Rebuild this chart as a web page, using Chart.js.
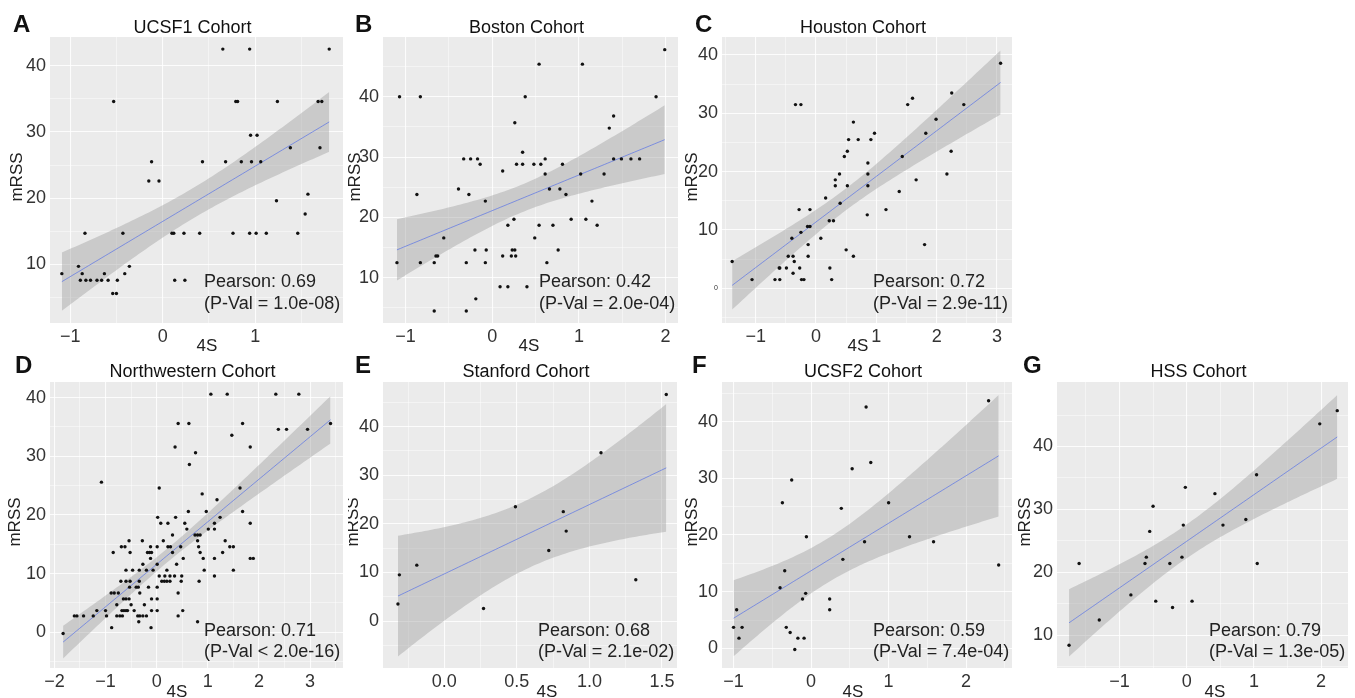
<!DOCTYPE html>
<html lang="en">
<head>
<meta charset="UTF-8">
<title>4S vs mRSS by cohort</title>
<script src="https://cdn.jsdelivr.net/npm/chart.js"></script>
<style>
  body { margin: 0; background: #fff; width: 1355px; height: 698px; position: relative; overflow: hidden; }
  canvas { position: absolute; }
</style>
</head>
<body>
<script>
// ---- data (4S score vs mRSS) ----
const ucsf1X = [0.65,0.94,1.80,-0.53,0.79,0.81,1.24,1.68,1.72,0.95,1.02,1.38,1.70,-0.12,0.43,0.68,0.85,0.96,1.06,-0.15,-0.04,1.57,1.23,1.54,-0.84,-0.43,0.10,0.12,0.23,0.40,0.76,0.94,1.01,1.12,1.46,-0.91,-0.36,-1.09,-0.87,-0.63,-0.41,-0.89,-0.83,-0.78,-0.71,-0.66,-0.59,-0.49,0.13,0.24,-0.54,-0.50];
const ucsf1Y = [42.5,42.5,42.5,34.6,34.6,34.6,34.6,34.6,34.6,29.5,29.5,27.6,27.6,25.5,25.5,25.5,25.5,25.5,25.5,22.6,22.6,20.6,19.6,17.6,14.7,14.7,14.7,14.7,14.7,14.7,14.7,14.7,14.7,14.7,14.7,9.7,9.7,8.6,8.6,8.6,8.6,7.6,7.6,7.6,7.6,7.6,7.6,7.6,7.6,7.6,5.6,5.6];

const bostonX = [1.99,0.54,1.04,-1.07,-0.83,0.38,1.89,1.40,1.35,0.26,0.35,-0.33,-0.25,-0.17,1.40,1.49,1.60,1.70,0.61,-0.14,0.28,0.35,0.48,0.56,0.81,0.12,0.61,1.02,1.29,-0.39,0.66,0.78,-0.27,-0.87,0.85,-0.08,1.15,-0.56,0.25,0.91,1.08,0.18,0.54,0.70,1.21,0.49,-0.20,-0.07,0.23,0.26,0.76,-1.10,-0.83,-0.67,-0.30,-0.08,0.63,-0.65,-0.63,0.12,0.22,0.27,0.09,0.18,0.40,-0.19,-0.67,-0.30];
const bostonY = [47.8,45.4,45.4,40,40,40,40,36.8,34.8,35.7,30.8,29.7,29.7,29.7,29.7,29.7,29.7,29.7,29.7,28.8,28.8,28.8,28.8,28.8,28.8,27.7,27.2,27.2,27.2,24.7,24.7,24.7,23.8,23.8,23.8,22.7,22.7,16.6,19.7,19.7,19.7,18.7,18.7,18.7,18.7,16.6,14.6,14.6,14.6,14.6,14.6,12.5,12.5,12.5,12.5,12.5,12.5,13.6,13.6,13.6,13.6,13.6,8.5,8.5,8.5,6.5,4.5,4.5];

const houstonX = [3.06,-0.34,-0.25,1.60,1.52,2.25,2.45,1.99,0.62,1.82,0.97,0.91,0.54,0.70,0.52,0.47,1.43,2.24,0.86,2.17,0.39,0.86,0.32,0.32,0.52,0.86,1.66,1.38,0.16,0.40,-0.28,-0.10,1.16,0.85,0.22,0.29,-0.14,-0.10,-0.40,-0.25,0.08,-0.13,1.80,0.50,0.62,-0.46,-0.38,-0.13,-1.39,-0.36,-0.61,-0.60,-0.49,-0.27,0.23,-0.38,-1.06,-0.68,-0.60,-0.24,-0.20,0.26];
const houstonY = [38.6,31.5,31.5,32.6,31.5,33.5,31.5,29,28.5,26.6,26.6,25.5,25.5,25.5,23.5,22.6,22.6,23.5,21.5,19.6,19.6,19.6,18.6,17.6,17.6,17.6,18.6,16.6,15.5,14.6,13.5,13.5,13.5,12.6,11.6,11.6,10.6,10.6,8.6,9.6,8.6,7.5,7.5,6.6,5.5,5.5,5.5,5.5,4.6,4.6,3.5,3.5,3.5,3.5,3.5,2.6,1.5,1.5,1.5,1.5,1.5,1.5];

const nwX = [0.36,-1.08,0.05,0.02,0.08,0.22,0.37,0.31,-0.54,-0.28,
  -0.69,-0.62,-0.52,-0.12,0.01,0.13,-0.18,-0.14,-0.10,0.22,
  0.27,-0.85,0.47,-0.12,0.31,-0.27,0.01,0.39,-0.34,-0.20,
  -0.60,-0.47,-0.07,0.20,0.05,0.16,0.26,0.35,0.49,-0.70,
  -0.60,-0.52,-0.34,0.10,0.15,0.20,0.26,0.48,-0.53,-0.40,
  -0.36,-0.16,0.01,-0.89,-0.83,-0.75,-0.33,0.42,-0.65,-0.60,
  -0.54,-0.10,0.01,-0.78,-0.50,-0.24,-0.68,-0.64,-0.60,-0.57,
  -0.44,-0.10,0.01,-1.00,-1.17,-1.61,-1.56,-1.43,-1.24,-0.98,
  -0.78,-0.72,-0.67,-0.37,-0.33,-0.27,-0.20,0.42,-0.35,-0.88,
  -0.11,-1.83,0.42,
  1.06,1.38,2.33,2.78,0.63,1.68,3.40,2.38,2.54,2.95,
  1.47,1.83,0.76,0.64,1.63,0.89,1.18,1.68,0.62,0.97,
  1.24,1.83,0.55,0.59,1.13,1.13,1.01,0.75,0.80,0.85,
  0.80,0.82,1.34,1.43,1.50,0.85,1.29,1.83,1.89,1.13,
  0.52,0.91,0.93,1.50,1.13,0.83,0.51,0.80];
const nwY = [31.6,25.6,24.6,19.6,18.6,18.6,19.6,16.6,15.6,15.6,
  14.6,14.6,13.6,14.6,14.6,15.6,13.6,13.6,13.6,14.6,
  14.6,13.6,14.6,12.6,13.6,11.6,11.6,11.6,10.6,10.6,
  10.6,10.6,10.6,10.6,9.6,9.6,9.6,9.6,9.6,8.7,
  8.7,8.7,8.7,8.7,8.7,8.7,8.7,8.7,7.7,7.7,
  7.7,7.7,7.7,6.7,6.7,6.7,6.7,6.7,5.7,5.7,
  5.7,5.7,5.7,4.7,4.7,4.7,3.7,3.7,3.7,3.7,
  3.7,3.7,3.7,3.7,3.7,2.8,2.8,2.8,2.8,2.8,
  2.8,2.8,2.8,2.8,2.8,2.8,2.8,2.8,1.8,0.8,
  0.8,-0.2,35.6,
  40.6,40.6,40.6,40.6,35.6,35.6,35.6,34.6,34.6,34.6,
  33.6,31.6,30.6,28.6,24.6,23.6,22.6,20.6,20.6,20.6,
  19.6,18.6,18.6,17.6,18.6,17.6,17.6,16.6,16.6,16.6,
  15.6,14.6,15.6,14.6,14.6,13.6,13.6,12.6,12.6,12.6,
  12.6,12.6,10.6,10.6,9.6,8.7,3.7,1.8];

const stanfordX = [1.53,1.08,0.49,0.82,0.84,0.72,-0.19,-0.31,1.32,-0.32,0.27];
const stanfordY = [46.6,34.6,23.5,22.5,18.5,14.5,11.5,9.5,8.5,3.5,2.6];

const ucsf2X = [2.29,0.71,0.77,0.53,-0.25,-0.37,1.00,0.39,-0.06,0.69,1.27,1.58,2.42,0.41,-0.34,-0.40,-0.07,-0.11,0.24,0.24,-0.96,-1.00,-0.89,-0.32,-0.27,-0.93,-0.17,-0.09,-0.21];
const ucsf2Y = [43.7,42.6,32.8,31.7,29.7,25.7,25.7,24.7,19.7,18.8,19.7,18.8,14.7,15.7,13.7,10.7,9.7,8.7,8.7,6.8,6.8,3.7,3.7,3.7,2.8,1.8,1.8,1.8,-0.2];

const hssX = [2.24,1.98,1.04,-0.02,0.42,-0.50,-0.05,0.54,0.88,-0.55,-0.60,-0.62,-0.25,-0.07,-1.60,1.05,-0.83,-0.46,0.08,-0.21,-1.30,-1.75];
const hssY = [45.7,43.6,35.5,33.5,32.5,30.5,27.5,27.5,28.4,26.5,22.4,21.4,21.4,22.4,21.4,21.4,16.4,15.4,15.4,14.4,12.4,8.4];

// tick values and labels
const ticksX3 = [-1, 0, 1];          const labelsX3 = ['\u22121', '0', '1'];
const ticksX4 = [-1, 0, 1, 2];       const labelsX4 = ['\u22121', '0', '1', '2'];
const ticksX5 = [-1, 0, 1, 2, 3];    const labelsX5 = ['\u22121', '0', '1', '2', '3'];
const ticksX6 = [-2, -1, 0, 1, 2, 3]; const labelsX6 = ['\u22122', '\u22121', '0', '1', '2', '3'];
const ticksXE = [0, 0.5, 1, 1.5];    const labelsXE = ['0.0', '0.5', '1.0', '1.5'];
const ticksY4 = [10, 20, 30, 40];    const labelsY4 = ['10', '20', '30', '40'];
const ticksY5 = [0, 10, 20, 30, 40]; const labelsY5 = ['0', '10', '20', '30', '40'];

const titles = ['UCSF1 Cohort', 'Boston Cohort', 'Houston Cohort', 'Northwestern Cohort', 'Stanford Cohort', 'UCSF2 Cohort', 'HSS Cohort'];
const pearson = ['0.69', '0.42', '0.72', '0.71', '0.68', '0.59', '0.79'];
const pvals = ['= 1.0e-08', '= 2.0e-04', '= 2.9e-11', '< 2.0e-16', '= 2.1e-02', '= 7.4e-04', '= 1.3e-05'];

// ---- layout (page pixels) ----
const FONT = '"Liberation Sans", Arial, Helvetica, sans-serif';
const panels = [
  { tag: 'A', xs: ucsf1X, ys: ucsf1Y, xt: ticksX3, xl: labelsX3, yt: ticksY4, yl: labelsY4,
    box: [0, 0, 348, 353], area: [50, 37, 343, 323], xr: [-1.218, 1.949], yr: [1.15, 44.33], tagAt: [13, 32], ytX: 17, xtX: 207 },
  { tag: 'B', xs: bostonX, ys: bostonY, xt: ticksX4, xl: labelsX4, yt: ticksY4, yl: labelsY4,
    box: [348, 0, 334, 353], area: [383, 37, 678, 323], xr: [-1.261, 2.143], yr: [2.5, 49.9], tagAt: [355, 32], ytX: 355, xtX: 529 },
  { tag: 'C', xs: houstonX, ys: houstonY, xt: ticksX5, xl: labelsX5, yt: ticksY5, yl: labelsY5, tinyZero: true,
    box: [682, 0, 334, 353], area: [722, 37, 1012, 323], xr: [-1.558, 3.249], yr: [-5.94, 43.09], tagAt: [695, 32], ytX: 692, xtX: 858 },
  { tag: 'D', xs: nwX, ys: nwY, xt: ticksX6, xl: labelsX6, yt: ticksY5, yl: labelsY5,
    box: [0, 353, 348, 345], area: [50, 382, 343, 668], xr: [-2.086, 3.644], yr: [-6.08, 42.67], tagAt: [15, 373], ytX: 15, xtX: 177 },
  { tag: 'E', xs: stanfordX, ys: stanfordY, xt: ticksXE, xl: labelsXE, yt: ticksY5, yl: labelsY5,
    box: [348, 353, 334, 345], area: [383, 382, 677, 668], xr: [-0.423, 1.604], yr: [-9.65, 49.16], tagAt: [355, 373], ytX: 353, xtX: 547 },
  { tag: 'F', xs: ucsf2X, ys: ucsf2Y, xt: ticksX4, xl: labelsX4, yt: ticksY5, yl: labelsY5,
    box: [682, 353, 334, 345], area: [722, 382, 1015, 668], xr: [-1.149, 2.592], yr: [-3.47, 47.0], tagAt: [692, 373], ytX: 692, xtX: 853 },
  { tag: 'G', xs: hssX, ys: hssY, xt: ticksX4, xl: labelsX4, yt: ticksY4, yl: labelsY4,
    box: [1016, 353, 339, 345], area: [1057, 382, 1348, 668], xr: [-1.929, 2.400], yr: [4.77, 50.26], tagAt: [1023, 373], ytX: 1025, xtX: 1215 }
];

// linear fit + 95% confidence band, same as geom_smooth(method = "lm")
function lmBand(xs, ys) {
  const n = xs.length;
  const mx = xs.reduce((s, v) => s + v, 0) / n;
  const my = ys.reduce((s, v) => s + v, 0) / n;
  let sxx = 0, sxy = 0;
  xs.forEach((x, i) => { sxx += (x - mx) ** 2; sxy += (x - mx) * (ys[i] - my); });
  const b = sxy / sxx, a = my - b * mx;
  let sse = 0;
  xs.forEach((x, i) => { sse += (ys[i] - a - b * x) ** 2; });
  const s = Math.sqrt(sse / (n - 2));
  const df = n - 2, z = 1.959964;
  const t = z + (z ** 3 + z) / (4 * df) + (5 * z ** 5 + 16 * z ** 3 + 3 * z) / (96 * df * df);
  const lo = Math.min(...xs), hi = Math.max(...xs);
  const fit = [], upper = [], lower = [];
  for (let k = 0; k <= 80; k++) {
    const x = lo + (hi - lo) * k / 80;
    const yh = a + b * x;
    const se = s * Math.sqrt(1 / n + (x - mx) ** 2 / sxx);
    fit.push({ x, y: yh });
    upper.push({ x, y: yh + t * se });
    lower.push({ x, y: yh - t * se });
  }
  return { fit, upper, lower };
}

// major ticks plus ggplot-style minor breaks halfway between
function withMinors(majors, min, max) {
  const step = majors[1] - majors[0];
  const all = majors.concat(majors.map(v => v - step / 2), [majors[majors.length - 1] + step / 2]);
  return all.filter(v => v >= min && v <= max).sort((p, q) => p - q).map(v => ({ value: v }));
}

function textPlugin(p, i) {
  const row2 = p.box[1] > 0;
  return {
    id: 'panelText' + i,
    beforeDraw(chart) {
      const a = chart.chartArea, c = chart.ctx;
      c.save();
      c.fillStyle = '#EBEBEB';
      c.fillRect(a.left, a.top, a.right - a.left, a.bottom - a.top);
      c.restore();
    },
    afterDraw(chart) {
      const a = chart.chartArea, c = chart.ctx;
      const ox = p.box[0], oy = p.box[1];
      c.save();
      c.fillStyle = '#111';
      c.textBaseline = 'alphabetic';
      c.textAlign = 'left';
      c.font = 'bold 24px ' + FONT;
      c.fillText(p.tag, p.tagAt[0] - ox, p.tagAt[1] - oy);

      c.font = '18px ' + FONT;
      c.textAlign = 'center';
      c.fillText(titles[i], (a.left + a.right) / 2 - 4, (row2 ? 377 : 33) - oy);

      c.fillStyle = '#222';
      c.textAlign = 'left';
      c.textBaseline = 'middle';
      const sx = a.right - 139;
      c.fillText('Pearson: ' + pearson[i], sx, a.bottom - (row2 ? 37 : 41));
      c.fillText('(P-Val ' + pvals[i] + ')', sx, a.bottom - (row2 ? 16 : 19));

      c.font = '17px ' + FONT;
      c.textAlign = 'center';
      c.fillText('4S', p.xtX - ox, (row2 ? 692 : 346) - oy);
      c.translate(p.ytX - ox, (a.top + a.bottom) / 2 - 3);
      c.rotate(-Math.PI / 2);
      c.fillText('mRSS', 0, 0);
      c.restore();
    }
  };
}

function axis(majors, labels, range, tiny) {
  return {
    type: 'linear',
    min: range[0],
    max: range[1],
    border: { display: false },
    grid: {
      drawTicks: false,
      color: 'rgba(255,255,255,0.85)',
      lineWidth: ctx => (ctx.tick && majors.includes(ctx.tick.value)) ? 1.1 : 0.55
    },
    afterBuildTicks: s => { s.ticks = withMinors(majors, range[0], range[1]); },
    ticks: {
      autoSkip: false,
      maxRotation: 0,
      color: '#333',
      font: ctx => ({ family: FONT, size: (tiny && ctx.tick && ctx.tick.value === 0) ? 7 : 18 }),
      callback: v => { const k = majors.indexOf(v); return k >= 0 ? labels[k] : ''; }
    }
  };
}

panels.forEach((p, i) => {
  const cv = document.createElement('canvas');
  cv.width = p.box[2];
  cv.height = p.box[3];
  cv.style.left = p.box[0] + 'px';
  cv.style.top = p.box[1] + 'px';
  document.body.appendChild(cv);

  const band = lmBand(p.xs, p.ys);
  const pts = p.xs.map((x, k) => ({ x, y: p.ys[k] }));

  const xScale = axis(p.xt, p.xl, p.xr, false);
  xScale.ticks.padding = 3;
  xScale.afterFit = s => { s.height = p.box[1] + p.box[3] - p.area[3]; };
  const yScale = axis(p.yt, p.yl, p.yr, p.tinyZero);
  yScale.ticks.padding = 4;
  yScale.afterFit = s => { s.width = p.area[0] - p.box[0]; };

  new Chart(cv, {
    type: 'scatter',
    data: {
      datasets: [
        { data: pts, backgroundColor: '#111', borderWidth: 0, pointRadius: 1.7, order: 0 },
        { type: 'line', data: band.fit, borderColor: 'rgba(70,100,235,0.6)', borderWidth: 1, pointRadius: 0, fill: false, order: 1 },
        { type: 'line', data: band.upper, borderColor: 'rgba(0,0,0,0)', borderWidth: 0, pointRadius: 0,
          backgroundColor: 'rgba(153,153,153,0.4)', fill: 3, order: 2 },
        { type: 'line', data: band.lower, borderColor: 'rgba(0,0,0,0)', borderWidth: 0, pointRadius: 0, fill: false, order: 3 }
      ]
    },
    options: {
      responsive: false,
      animation: false,
      events: [],
      layout: { padding: { top: p.area[1] - p.box[1], right: p.box[0] + p.box[2] - p.area[2], left: 0, bottom: 0 } },
      plugins: { legend: { display: false }, tooltip: { enabled: false }, title: { display: false } },
      scales: { x: xScale, y: yScale }
    },
    plugins: [textPlugin(p, i)]
  });
});
</script>
</body>
</html>
